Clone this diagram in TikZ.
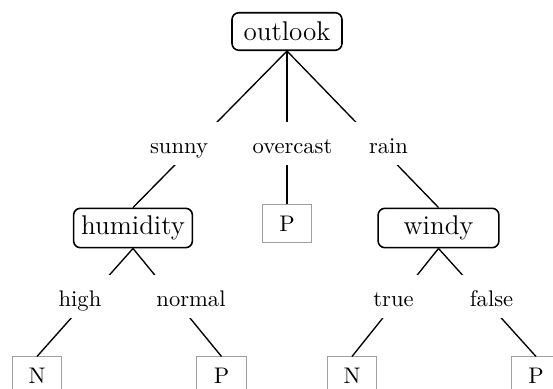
\documentclass[tikz,border=0pt]{standalone}
\usepackage{tikz}

\begin{document}
\begin{tikzpicture}
    [x=0.443pt,y=-0.443pt,
     attr/.style={draw,rounded corners=3pt,line width=0.7pt,font=\large,
                  inner xsep=3.3pt,minimum height=16.6pt},
     leaf/.style={draw=gray!75,line width=0.45pt,minimum width=22pt,minimum height=16.4pt},
     val/.style={fill=white,anchor=base,inner xsep=8pt,inner ysep=0pt,
                 text height=13.7pt,text depth=5.1pt},
     branch/.style={line width=0.6pt}]

    % attribute nodes
    \node[attr,minimum width=48.7pt] (outlook) at (287,31.5) {outlook};
    \node[attr] (humidity) at (133,228) {humidity};
    \node[attr,minimum width=53.5pt] (windy) at (438.5,228) {windy};

    % leaves
    \node[leaf] (overcastP) at (287,223.5) {P};
    \node[leaf] (highN) at (37,375.5) {N};
    \node[leaf] (normalP) at (221.5,375.5) {P};
    \node[leaf] (trueN) at (352,375.5) {N};
    \node[leaf] (falseP) at (536,375.5) {P};

    % branches
    \draw[branch] (outlook.south) -- (humidity.north);
    \draw[branch] (outlook.south) -- (overcastP.north);
    \draw[branch] (outlook.south) -- (windy.north);
    \draw[branch] (humidity.south) -- (highN.north);
    \draw[branch] (humidity.south) -- (normalP.north);
    \draw[branch] (windy.south) -- (trueN.north);
    \draw[branch] (windy.south) -- (falseP.north);

    % values on the branches
    \node[val] (sunny) at (179,153) {sunny};
    \node[val] (overcast) at (292.5,153) {overcast};
    \node[val] (rain) at (388.5,153) {rain};
    \node[val] (high) at (80,306) {high};
    \node[val] (normal) at (191,306) {normal};
    \node[val] (true) at (393.5,306) {true};
    \node[val] (false) at (491.5,306) {false};

    \pgfresetboundingbox
    \useasboundingbox (0,0) rectangle (553,389);
\end{tikzpicture}
\end{document}
